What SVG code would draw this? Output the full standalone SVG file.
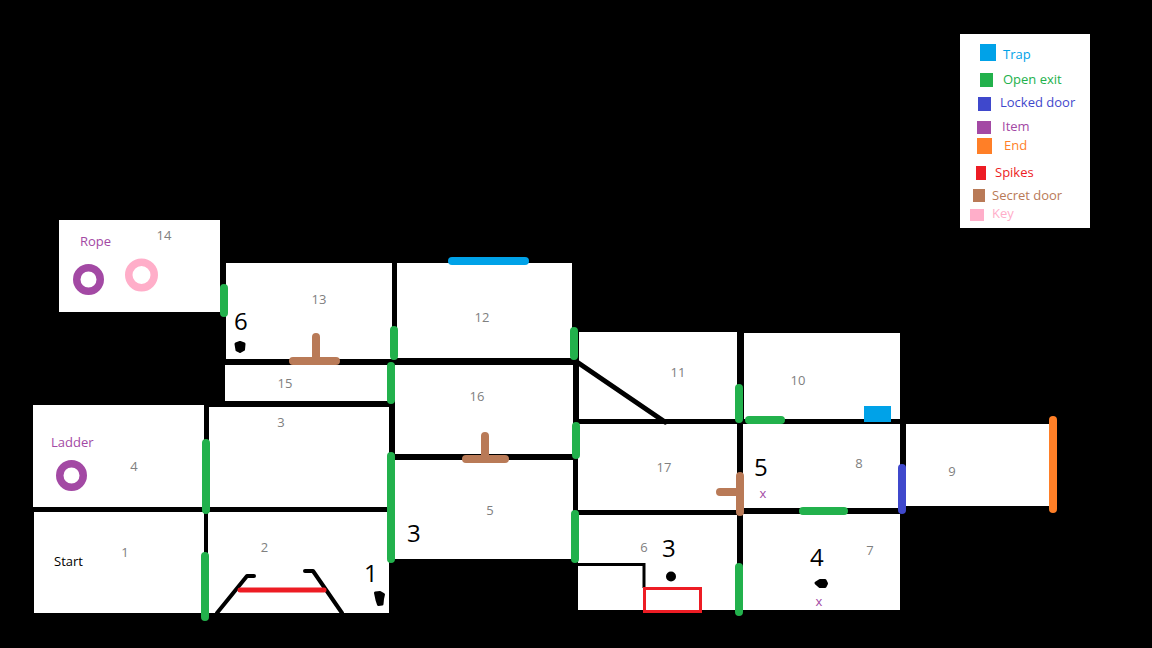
<svg xmlns="http://www.w3.org/2000/svg" width="1152" height="648" viewBox="0 0 1152 648">
<style>
text{font-family:"Open Sans","Noto Sans",sans-serif;font-size:13px}
.room{fill:#fff}
.n{fill:#808080;text-anchor:middle}
.big{font-size:24px;fill:#000}
.wall{fill:none;stroke:#000;stroke-width:4;stroke-linecap:round;stroke-linejoin:round}
.blob{fill:#000;stroke:#000;stroke-width:3;stroke-linejoin:round}
.door{fill:none;stroke-width:8;stroke-linecap:round}
.open{stroke:#22b14c}.trap{stroke:#00a2e8}.lock{stroke:#3f48cc}.end{stroke:#ff7f27}.secret{stroke:#b97a57}
.ring{fill:none;stroke-width:7.500}
.p{fill:#a349a4}
</style>
<rect width="1152" height="648" fill="#000"/>
<g id="room-14"><rect class="room" x="59" y="220" width="161" height="92"/><text class="n" x="164" y="240">14</text><text class="p" x="80" y="246">Rope</text><circle class="ring" cx="88.500" cy="279.500" r="11.750" stroke="#a349a4"/><circle class="ring" cx="141.500" cy="275" r="12.750" stroke="#ffaec9"/></g>
<g id="room-13"><rect class="room" x="226" y="263" width="166" height="96"/><text class="n" x="319" y="304">13</text><text class="big" x="234" y="330">6</text><path class="blob" d="M236 344L240 342.500L244 344L243.500 349.500L240 351.500L237 350Z"/></g>
<g id="room-15"><rect class="room" x="225" y="365" width="165" height="36"/><text class="n" x="285" y="388">15</text></g>
<g id="room-4"><rect class="room" x="33" y="405" width="171" height="102"/><text class="n" x="134" y="471">4</text><text class="p" x="51" y="447">Ladder</text><circle class="ring" cx="71.500" cy="475.500" r="11.750" stroke="#a349a4"/></g>
<g id="room-3"><rect class="room" x="209" y="407" width="180" height="100"/><text class="n" x="281" y="427">3</text></g>
<g id="room-1"><rect class="room" x="34" y="512" width="170" height="101"/><text class="n" x="125" y="557">1</text><text x="54" y="566" fill="#000">Start</text></g>
<g id="room-2"><rect class="room" x="208" y="512" width="181" height="101"/><text class="n" x="264.500" y="552">2</text><text class="big" x="364" y="582">1</text><path class="blob" d="M375.500 593L380 592.500L383.500 594.500L382.500 599L382 604L378.500 604.500L377 600Z"/><path class="wall" d="M217 613L247 576H254M342 613L313 571H305"/><path d="M240 590H324" stroke="#ed1c24" stroke-width="5" stroke-linecap="round"/></g>
<g id="room-12"><rect class="room" x="397" y="263" width="175" height="95"/><text class="n" x="482" y="322">12</text></g>
<g id="room-16"><rect class="room" x="395" y="365" width="178" height="89"/><text class="n" x="477" y="401">16</text></g>
<g id="room-5"><rect class="room" x="395" y="460" width="178" height="99"/><text class="n" x="490" y="515">5</text><text class="big" x="407" y="542">3</text></g>
<g id="room-11"><rect class="room" x="579" y="332" width="158" height="87"/><text class="n" x="678" y="377">11</text></g>
<g id="room-17"><rect class="room" x="578" y="424" width="159" height="86"/><text class="n" x="664" y="472">17</text></g>
<g id="room-6"><rect class="room" x="578" y="515" width="159" height="95"/><text class="n" x="644" y="552">6</text><text class="big" x="662" y="557">3</text><circle cx="671" cy="576.500" r="5"/><path d="M578 564.500H644V588" fill="none" stroke="#000" stroke-width="3"/><rect x="644.500" y="588.500" width="56" height="23" fill="none" stroke="#ed1c24" stroke-width="3"/></g>
<g id="room-10"><rect class="room" x="744" y="333" width="156" height="86"/><text class="n" x="798" y="385">10</text><rect x="864" y="406" width="27" height="16" fill="#00a2e8"/></g>
<g id="room-8"><rect class="room" x="743" y="424" width="157" height="84"/><text class="n" x="859" y="468">8</text><text class="big" x="754" y="476">5</text><text class="p" x="763" y="498" text-anchor="middle">x</text></g>
<g id="room-7"><rect class="room" x="743" y="514" width="157" height="96"/><text class="n" x="870" y="555">7</text><text class="big" x="810" y="566">4</text><path class="blob" d="M816 583L820 580.500L825 580.500L826.500 583.500L825 586.500L820 586.500Z"/><text class="p" x="819" y="606" text-anchor="middle">x</text></g>
<g id="room-9"><rect class="room" x="906" y="424" width="147" height="82"/><text class="n" x="952" y="476">9</text></g>
<g id="connectors">
<path class="wall" d="M577 362L665 422" style="stroke-width:5"/>
<path class="door open" d="M224 288V313M394 330V356M391 366V400M206 443V510M205 556V617M391 456V559M574 331V356M576 426V455M575 514V559M739 388V419M749 420H781M739 567V612M803 511H844"/>
<path class="door trap" d="M452 261H525"/>
<path class="door lock" d="M902 468V510"/>
<path class="door end" d="M1053 420V509"/>
<path class="door secret" d="M293 361H336M316 337V361M466 459H505M485 436V459M740 476V512M720 492H740"/>
</g>
<g id="legend"><rect class="room" x="960" y="34" width="130" height="194"/>
<rect x="980" y="44" width="16" height="17" fill="#00a2e8"/><text x="1003" y="59" fill="#00a2e8">Trap</text>
<rect x="980" y="73" width="13" height="14" fill="#22b14c"/><text x="1003" y="84" fill="#22b14c">Open exit</text>
<rect x="978" y="97" width="13" height="14" fill="#3f48cc"/><text x="1000" y="107" fill="#3f48cc">Locked door</text>
<rect x="977" y="121" width="14" height="13" fill="#a349a4"/><text x="1002" y="131" fill="#a349a4">Item</text>
<rect x="977" y="138" width="15" height="16" fill="#ff7f27"/><text x="1004" y="150" fill="#ff7f27">End</text>
<rect x="976" y="166" width="10" height="14" fill="#ed1c24"/><text x="995" y="177" fill="#ed1c24">Spikes</text>
<rect x="973" y="189" width="12" height="13" fill="#b97a57"/><text x="992" y="200" fill="#b97a57">Secret door</text>
<rect x="970" y="209" width="14" height="12" fill="#ffaec9"/><text x="992" y="218" fill="#ffaec9">Key</text>
</g>
</svg>
